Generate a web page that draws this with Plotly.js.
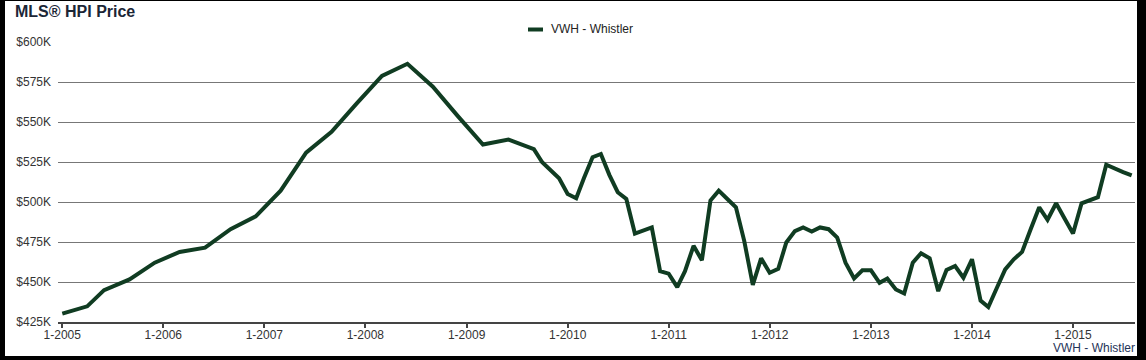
<!DOCTYPE html>
<html>
<head>
<meta charset="utf-8">
<script src="https://cdn.plot.ly/plotly-3.0.1.min.js"></script>
<style>
  html, body { margin: 0; padding: 0; background: #000; width: 1146px; height: 360px; overflow: hidden; }
  #chart { position: absolute; left: 5px; top: 1px; width: 1132px; height: 355px; background: #fff; }
</style>
</head>
<body>
<div id="chart"></div>
<script>
const seriesName = "VWH - Whistler";
const chartTitle = "MLS® HPI Price";

const dates = [
  "2005-01-01","2005-04-01","2005-06-01","2005-09-01","2005-12-01",
  "2006-03-01","2006-06-01","2006-09-01","2006-12-01",
  "2007-03-01","2007-06-01","2007-09-01","2007-12-01",
  "2008-03-01","2008-06-01","2008-09-01","2008-12-01",
  "2009-03-01","2009-06-01","2009-09-01","2009-10-01","2009-11-01","2009-12-01",
  "2010-01-01","2010-02-01","2010-03-01","2010-04-01","2010-05-01","2010-06-01",
  "2010-07-01","2010-08-01","2010-09-01","2010-10-01","2010-11-01","2010-12-01",
  "2011-01-01","2011-02-01","2011-03-01","2011-04-01","2011-05-01","2011-06-01",
  "2011-07-01","2011-08-01","2011-09-01","2011-10-01","2011-11-01","2011-12-01",
  "2012-01-01","2012-02-01","2012-03-01","2012-04-01","2012-05-01","2012-06-01",
  "2012-07-01","2012-08-01","2012-09-01","2012-10-01","2012-11-01","2012-12-01",
  "2013-01-01","2013-02-01","2013-03-01","2013-04-01","2013-05-01","2013-06-01",
  "2013-07-01","2013-08-01","2013-09-01","2013-10-01","2013-11-01","2013-12-01",
  "2014-01-01","2014-02-01","2014-03-01","2014-04-01","2014-05-01","2014-06-01",
  "2014-07-01","2014-08-01","2014-09-01","2014-10-01","2014-11-01","2014-12-01",
  "2015-01-01","2015-02-01","2015-03-01","2015-04-01","2015-05-01","2015-06-01",
  "2015-07-01","2015-08-01"
];

// HPI price in thousands of dollars
const hpiK = [
  430.2, 434.8, 444.9, 451.6, 462.1,
  468.8, 471.5, 483.0, 491.0,
  507.1, 530.8, 543.8, 561.6,
  578.8, 586.4, 572.1, 553.5,
  535.9, 539.0, 533.0, 524.8, 519.8, 514.8,
  505.0, 502.3, 515.0, 528.0, 530.0, 516.8,
  506.1, 501.9, 480.3, 482.4, 484.1, 456.8,
  455.2, 446.8, 456.8, 472.6, 463.6, 500.9,
  507.1, 501.9, 496.7, 475.7, 448.2, 464.8,
  455.8, 458.2, 474.7, 481.8, 484.1, 481.6,
  484.1, 483.0, 477.8, 462.1, 452.2, 457.3,
  457.3, 449.5, 452.2, 445.3, 442.8, 462.1,
  468.0, 464.8, 444.3, 457.5, 460.0, 452.7,
  464.2, 438.4, 434.4, 446.4, 457.9, 464.2,
  468.8, 483.0, 496.7, 488.9, 499.2, 489.8,
  480.3, 499.2, 500.9, 503.0, 523.3, 520.8,
  518.7, 516.6
];

const yTickVals = [425, 450, 475, 500, 525, 550, 575, 600];
const yTickText = ["$425K", "$450K", "$475K", "$500K", "$525K", "$550K", "$575K", "$600K"];

const lineColor = "#103c22";
const font = "Liberation Sans, Arial, Helvetica, sans-serif";

const trace = {
  x: dates,
  y: hpiK,
  type: "scatter",
  mode: "lines",
  name: seriesName,
  line: { color: lineColor, width: 4, shape: "linear" },
  hoverinfo: "x+y"
};

const layout = {
  width: 1132,
  height: 355,
  margin: { l: 53, r: 2, t: 41, b: 34 },
  paper_bgcolor: "#fff",
  plot_bgcolor: "#fff",
  showlegend: false,
  font: { family: font, size: 12, color: "#333" },
  title: {
    text: "<b>" + chartTitle + "</b>",
    font: { family: font, size: 16, color: "#1b2636" },
    xref: "container", yref: "container",
    x: 10 / 1132, xanchor: "left",
    y: 1 - 10 / 355, yanchor: "middle"
  },
  xaxis: {
    type: "date",
    range: ["2004-12-16 12:00", "2015-08-13"],
    tick0: "2005-01-01",
    dtick: "M12",
    tickformat: "%-m-%Y",
    ticks: "outside",
    ticklen: 4,
    tickwidth: 2,
    tickcolor: "#444",
    ticklabelstandoff: -3,
    showline: true,
    linecolor: "#444",
    linewidth: 2,
    showgrid: false,
    zeroline: false,
    tickfont: { family: font, size: 12, color: "#333" }
  },
  yaxis: {
    range: [425, 600],
    tickvals: yTickVals,
    ticktext: yTickText,
    showgrid: true,
    gridcolor: "#777",
    gridwidth: 1,
    showline: false,
    zeroline: false,
    ticks: "",
    ticklabelstandoff: 6,
    tickfont: { family: font, size: 12, color: "#333" }
  },
  shapes: [
    {
      type: "line", xref: "paper", yref: "paper",
      x0: (523 - 53) / 1077, x1: (538 - 53) / 1077,
      y0: (321 - 28.5) / 280, y1: (321 - 28.5) / 280,
      line: { color: lineColor, width: 4 }
    }
  ],
  annotations: [
    {
      text: seriesName, xref: "paper", yref: "paper",
      x: (544 - 53) / 1077, y: (321 - 28) / 280,
      xanchor: "left", yanchor: "middle", showarrow: false,
      font: { family: font, size: 12, color: "#222" }
    },
    {
      text: seriesName, xref: "paper", yref: "paper",
      x: (1131.5 - 53) / 1077, y: (321 - 347.5) / 280,
      xanchor: "right", yanchor: "middle", showarrow: false,
      font: { family: font, size: 12, color: "#1f3358" }
    }
  ]
};

Plotly.newPlot("chart", [trace], layout, { displayModeBar: false, staticPlot: true });
</script>
</body>
</html>
